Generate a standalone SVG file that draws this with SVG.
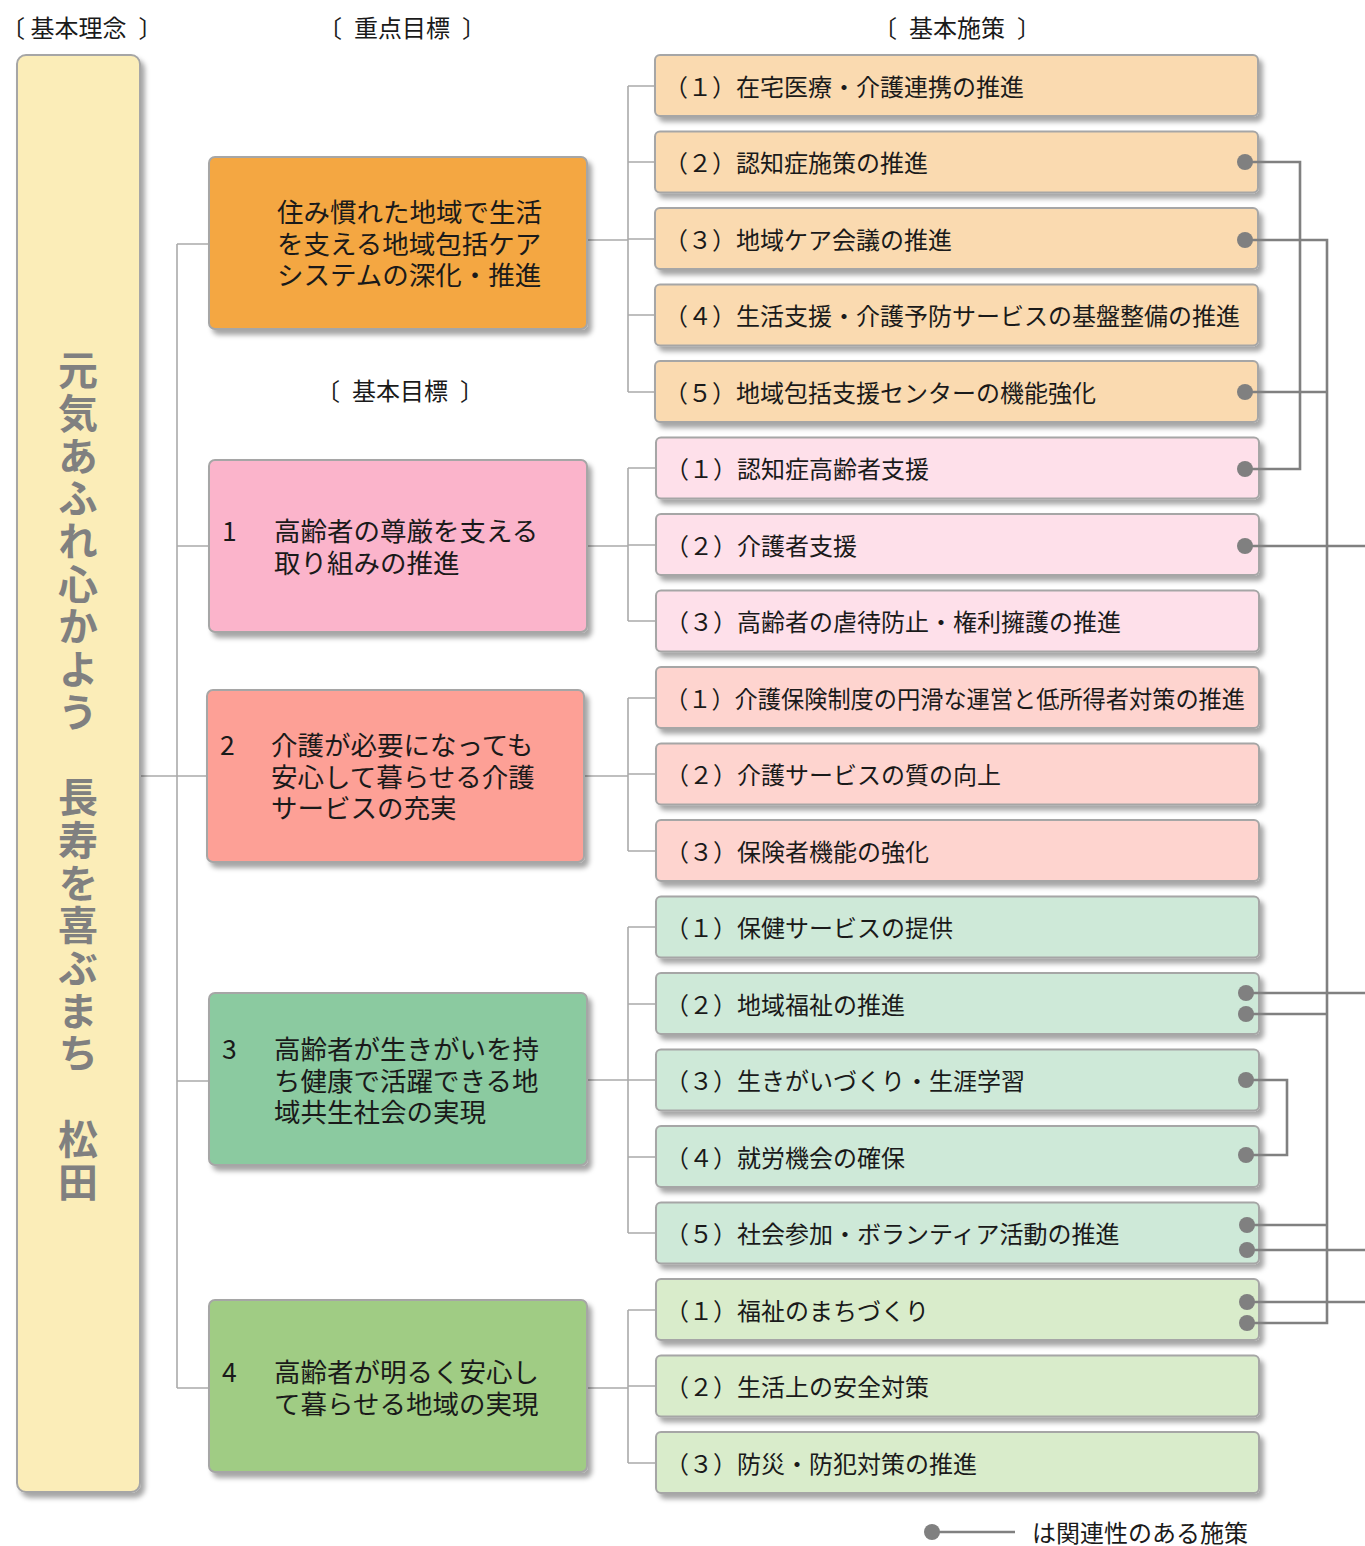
<svg xmlns="http://www.w3.org/2000/svg" width="1365" height="1546" viewBox="0 0 1365 1546">
<style>
text{font-family:"Noto Sans CJK JP","Noto Sans",sans-serif;fill:#1a1a1a;dominant-baseline:central}
.hd{font-size:24px;text-anchor:middle}
.bx{stroke:#a6a6a6;stroke-width:2;filter:url(#sh)}
.t{font-size:24px}
.m{font-size:26.5px}
.v{font-size:40px;font-weight:bold;fill:#808080;writing-mode:vertical-rl;letter-spacing:2.7px}
.tree{fill:none;stroke:#ababab;stroke-width:1.6}
.rel{fill:none;stroke:#808080;stroke-width:2.6}
.dot{fill:#808080}
.c0{fill:#fadab0}.c1{fill:#fee0ea}.c2{fill:#fed4cf}.c3{fill:#cee9d8}.c4{fill:#d9eccb}
</style>
<defs>
<filter id="sh" x="-10%" y="-10%" width="130%" height="130%">
<feDropShadow dx="4" dy="5" stdDeviation="2.5" flood-color="#000" flood-opacity="0.35"/>
</filter>
</defs>
<rect width="1365" height="1546" fill="#fff"/>
<g id="headers">
<text class="t" x="1" y="26">〔 基本理念&#x2002;〕</text>
<text class="hd" x="402" y="26">〔&#x2002;重点目標&#x2002;〕</text>
<text class="hd" x="957" y="26">〔&#x2002;基本施策&#x2002;〕</text>
<text class="hd" x="400" y="389">〔&#x2002;基本目標&#x2002;〕</text>
</g>
<g id="connectors">
<path class="tree" d="M140 776H207M177 244V1388M177 244H209M177 546H209M177 1081H209M177 1388H209"/>
<path class="tree" d="M587 240H628M628 86V392M628 86H655M628 162H655M628 239H655M628 315H655M628 392H655"/>
<path class="tree" d="M587 546H628M628 468V621M628 468H656M628 545H656M628 621H656"/>
<path class="tree" d="M584 776H628M628 698V851M628 698H656M628 774H656M628 851H656"/>
<path class="tree" d="M587 1080H628M628 927V1233M628 927H656M628 1004H656M628 1080H656M628 1157H656M628 1233H656"/>
<path class="tree" d="M587 1388H628M628 1310V1463M628 1310H656M628 1386H656M628 1463H656"/>
</g>
<g id="philosophy">
<rect class="bx" x="17" y="55" width="123" height="1437" rx="9" fill="#fbedb8"/>
<text class="v" x="78" y="350">元気あふれ心かよう　長寿を喜ぶまち　松田</text>
</g>
<g id="priority">
<rect class="bx" x="209" y="157" width="378" height="172" rx="6" fill="#f4a742"/>
<text class="m" x="277"><tspan x="277" y="210">住み慣れた地域で生活</tspan><tspan x="277" y="242">を支える地域包括ケア</tspan><tspan x="277" y="273">システムの深化・推進</tspan></text>
</g>
<g id="goal1">
<rect class="bx" x="209" y="460" width="378" height="172" rx="6" fill="#fbb4cb"/>
<text class="m" x="222" y="529">1</text>
<text class="m" x="274"><tspan x="274" y="529">高齢者の尊厳を支える</tspan><tspan x="274" y="561">取り組みの推進</tspan></text>
</g>
<g id="goal2">
<rect class="bx" x="207" y="690" width="377" height="172" rx="6" fill="#fda096"/>
<text class="m" x="220" y="743">2</text>
<text class="m" x="271"><tspan x="271" y="743">介護が必要になっても</tspan><tspan x="271" y="775">安心して暮らせる介護</tspan><tspan x="271" y="806">サービスの充実</tspan></text>
</g>
<g id="goal3">
<rect class="bx" x="209" y="993" width="378" height="172" rx="6" fill="#8bcaa0"/>
<text class="m" x="222" y="1047">3</text>
<text class="m" x="274"><tspan x="274" y="1047">高齢者が生きがいを持</tspan><tspan x="274" y="1079">ち健康で活躍できる地</tspan><tspan x="274" y="1110">域共生社会の実現</tspan></text>
</g>
<g id="goal4">
<rect class="bx" x="209" y="1300" width="378" height="172" rx="6" fill="#a0cc84"/>
<text class="m" x="222" y="1370">4</text>
<text class="m" x="274"><tspan x="274" y="1370">高齢者が明るく安心し</tspan><tspan x="274" y="1402">て暮らせる地域の実現</tspan></text>
</g>
<g id="m0-1"><rect class="bx c0" x="655" y="55" width="603" height="61" rx="5"/><text class="t" x="664" y="85">（１）在宅医療・介護連携の推進</text></g>
<g id="m0-2"><rect class="bx c0" x="655" y="131.5" width="603" height="61" rx="5"/><text class="t" x="664" y="161">（２）認知症施策の推進</text></g>
<g id="m0-3"><rect class="bx c0" x="655" y="208" width="603" height="61" rx="5"/><text class="t" x="664" y="238">（３）地域ケア会議の推進</text></g>
<g id="m0-4"><rect class="bx c0" x="655" y="284.5" width="603" height="61" rx="5"/><text class="t" x="664" y="314">（４）生活支援・介護予防サービスの基盤整備の推進</text></g>
<g id="m0-5"><rect class="bx c0" x="655" y="361" width="603" height="61" rx="5"/><text class="t" x="664" y="391">（５）地域包括支援センターの機能強化</text></g>
<g id="m1-1"><rect class="bx c1" x="656" y="437.5" width="603" height="61" rx="5"/><text class="t" x="665" y="467">（１）認知症高齢者支援</text></g>
<g id="m1-2"><rect class="bx c1" x="656" y="514" width="603" height="61" rx="5"/><text class="t" x="665" y="544">（２）介護者支援</text></g>
<g id="m1-3"><rect class="bx c1" x="656" y="590.5" width="603" height="61" rx="5"/><text class="t" x="665" y="620">（３）高齢者の虐待防止・権利擁護の推進</text></g>
<g id="m2-1"><rect class="bx c2" x="656" y="667" width="603" height="61" rx="5"/><text class="t" x="665" y="697" textLength="580" lengthAdjust="spacingAndGlyphs">（１）介護保険制度の円滑な運営と低所得者対策の推進</text></g>
<g id="m2-2"><rect class="bx c2" x="656" y="743.5" width="603" height="61" rx="5"/><text class="t" x="665" y="773">（２）介護サービスの質の向上</text></g>
<g id="m2-3"><rect class="bx c2" x="656" y="820" width="603" height="61" rx="5"/><text class="t" x="665" y="850">（３）保険者機能の強化</text></g>
<g id="m3-1"><rect class="bx c3" x="656" y="896.5" width="603" height="61" rx="5"/><text class="t" x="665" y="926">（１）保健サービスの提供</text></g>
<g id="m3-2"><rect class="bx c3" x="656" y="973" width="603" height="61" rx="5"/><text class="t" x="665" y="1003">（２）地域福祉の推進</text></g>
<g id="m3-3"><rect class="bx c3" x="656" y="1049.5" width="603" height="61" rx="5"/><text class="t" x="665" y="1079">（３）生きがいづくり・生涯学習</text></g>
<g id="m3-4"><rect class="bx c3" x="656" y="1126" width="603" height="61" rx="5"/><text class="t" x="665" y="1156">（４）就労機会の確保</text></g>
<g id="m3-5"><rect class="bx c3" x="656" y="1202.5" width="603" height="61" rx="5"/><text class="t" x="665" y="1232">（５）社会参加・ボランティア活動の推進</text></g>
<g id="m4-1"><rect class="bx c4" x="656" y="1279" width="603" height="61" rx="5"/><text class="t" x="665" y="1309">（１）福祉のまちづくり</text></g>
<g id="m4-2"><rect class="bx c4" x="656" y="1355.5" width="603" height="61" rx="5"/><text class="t" x="665" y="1385">（２）生活上の安全対策</text></g>
<g id="m4-3"><rect class="bx c4" x="656" y="1432" width="603" height="61" rx="5"/><text class="t" x="665" y="1462">（３）防災・防犯対策の推進</text></g>
<g id="relations">
<path class="rel" d="M1245 162H1300V469H1245"/>
<path class="rel" d="M1245 240H1327V1323H1247M1245 392H1327M1247 1014H1327M1247 1225H1327"/>
<path class="rel" d="M1245 546H1365M1247 993H1365M1247 1250H1365M1247 1302H1365"/>
<path class="rel" d="M1245 1080H1287V1155H1245"/>
<circle class="dot" cx="1245" cy="162" r="8"/>
<circle class="dot" cx="1245" cy="240" r="8"/>
<circle class="dot" cx="1245" cy="392" r="8"/>
<circle class="dot" cx="1245" cy="469" r="8"/>
<circle class="dot" cx="1245" cy="546" r="8"/>
<circle class="dot" cx="1246" cy="993" r="8"/>
<circle class="dot" cx="1246" cy="1014" r="8"/>
<circle class="dot" cx="1246" cy="1080" r="8"/>
<circle class="dot" cx="1246" cy="1155" r="8"/>
<circle class="dot" cx="1247" cy="1225" r="8"/>
<circle class="dot" cx="1247" cy="1250" r="8"/>
<circle class="dot" cx="1247" cy="1302" r="8"/>
<circle class="dot" cx="1247" cy="1323" r="8"/>
</g>
<g id="legend">
<path class="rel" d="M932 1532H1015"/>
<circle class="dot" cx="932" cy="1532" r="8"/>
<text class="t" x="1032" y="1531">は関連性のある施策</text>
</g>
</svg>
